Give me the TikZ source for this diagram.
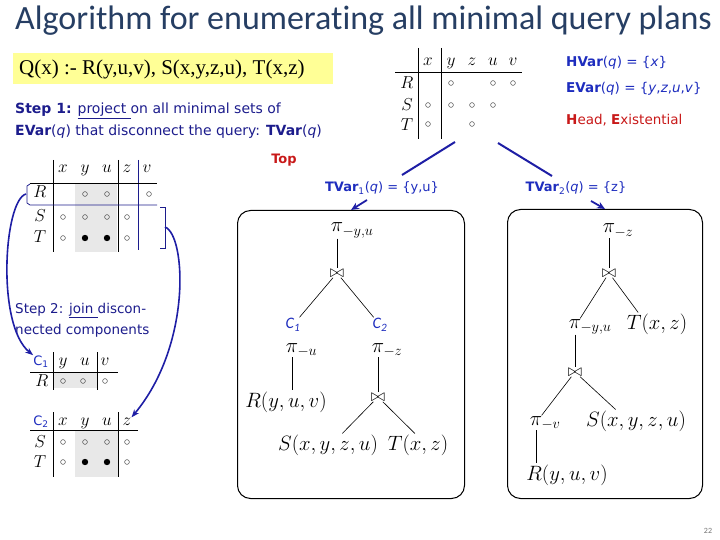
\documentclass[tikz,border=0pt]{standalone}
\usepackage{fontspec}
\setmainfont{Carlito}[Ligatures=NoCommon]
\newfontfamily\verd{DejaVu Sans}
\newfontfamily\tms{Liberation Serif}
\usetikzlibrary{arrows.meta,calc}
\definecolor{titlec}{RGB}{38,62,99}
\definecolor{navy}{RGB}{28,28,140}
\definecolor{lblue}{RGB}{30,45,190}
\definecolor{hred}{RGB}{200,25,25}
\definecolor{hl}{RGB}{255,255,150}
\definecolor{cellgray}{RGB}{232,232,232}
\definecolor{arrowc}{RGB}{30,30,165}
\newcommand\zrl[1]{\rlap{$\scriptstyle #1$}}
\begin{document}
\begin{tikzpicture}[x=1pt,y=-1pt,
  bl/.style={inner sep=0pt,anchor=base west},
  stepc/.style={bl,font=\verd\fontsize{14}{16}\selectfont,text=navy},
  infoc/.style={inner sep=0pt,font=\verd\fontsize{13.5}{15}\selectfont,text=lblue},
  tvc/.style={inner sep=0pt,anchor=base,font=\verd\fontsize{13}{15}\selectfont,text=lblue},
  hd/.style={inner sep=0pt,anchor=base,font=\fontsize{18.5}{20}\selectfont},
  oc/.style={draw=black!75,line width=0.45pt},
  rule/.style={line width=0.8pt},
  brule/.style={line width=0.8pt,draw=navy},
  pnode/.style={inner sep=0.5pt,anchor=base,font=\fontsize{20}{22}\selectfont},
  rel/.style={inner sep=1pt,font=\fontsize{20.5}{22}\selectfont},
  jn/.style={inner sep=0.5pt,font=\fontsize{18}{20}\selectfont},
  cl/.style={inner sep=1pt,text=lblue,font=\fontsize{16}{18}\selectfont\itshape},
  ctl/.style={inner sep=0pt,anchor=base,text=lblue,font=\verd\fontsize{13}{15}\selectfont},
  tedge/.style={line width=0.6pt},
  pbox/.style={draw,line width=1pt,rounded corners=13pt,anchor=north west},
  bline/.style={draw=arrowc,line width=2pt},
  barrow/.style={draw=arrowc,line width=1.8pt,-{Stealth[length=8pt,width=7pt]}},
  carrow/.style={draw=arrowc,line width=1.6pt,-{Stealth[length=8pt,width=6pt]}},
]
\useasboundingbox (0,0) rectangle (720,540);

% title
\node[bl,font=\fontsize{34}{38}\selectfont,text=titlec] (title) at (15,30)
  {Algorithm for enumerating all minimal query plans};

% query
\fill[hl] (13,53) rectangle (333,84);
\node[bl,font=\tms\fontsize{21}{23}\selectfont] (query) at (19,75)
  {Q(x) :- R(y,u,v), S(x,y,z,u), T(x,z)};

% step 1
\node[stepc] (s1a) at (15,114) {\textbf{Step 1:} \underline{project }on all minimal sets of};
\node[stepc] (s1b) at (15,136) {\textbf{EVar}(\textit{q}) that disconnect the query: \textbf{TVar}(\textit{q})};

% top table
\foreach \l/\x in {x/428,y/451,z/472,u/493,v/513}
  \node[hd] (ta\l) at (\x,66) {$\l$};
\foreach \l/\y in {R/89,S/111,T/131}
  \node[hd] (ta\l) at (407,\y) {$\l$};
\draw[rule] (418,48) -- (418,139);
\draw[rule] (441,48) -- (441,139);
\draw[rule] (395,72) -- (522,72);
\foreach \x/\y in {451/83,493/83,513/83,428/105,451/105,472/105,493/105,428/124,472/124}
  \draw[oc] (\x,\y) circle (2.4);

% info
\node[infoc,anchor=base west] (hvar) at (566,67) {\textbf{HVar}(\textit{q}) = \{\textit{x}\}};
\node[infoc,anchor=base west] (evar) at (566,93) {\textbf{EVar}(\textit{q}) = \{\textit{y},\textit{z},\textit{u},\textit{v}\}};
\node[infoc,anchor=base west,text=hred] (head) at (566,125) {\textbf{H}ead, \textbf{E}xistential};

% top label
\node[infoc,text=hred,font=\verd\bfseries\fontsize{13}{15}\selectfont] (top) at (284,160) {Top};

% tvar labels
\node[tvc] (tv1) at (382,192) {\textbf{TVar}\textsubscript{1}(\textit{q}) = \{y,u\}};
\node[tvc] (tv2) at (576,192) {\textbf{TVar}\textsubscript{2}(\textit{q}) = \{z\}};

% blue lines from table
\coordinate (l1s) at (455,142);
\coordinate (l1e) at (402,175);
\coordinate (l2s) at (498,143);
\coordinate (l2e) at (552,176);
\draw[bline] (l1s) -- (l1e);
\draw[bline] (l2s) -- (l2e);

% boxes
\node[pbox,minimum width=227pt,minimum height=288pt] (box1) at (237,210) {};
\node[pbox,minimum width=195pt,minimum height=289pt] (box2) at (507,209) {};
\coordinate (a1s) at (367,200);
\coordinate (a2s) at (591,201);
\draw[barrow] (a1s) -- (box1.north);
\draw[barrow] (a2s) -- (box2.north);

% tree 1
\node[pnode] (b1p) at (337,232) {$\pi_{\zrl{-y,u}}$};
\node[jn] (b1j) at (337,273) {$\bowtie$};
\node[cl] (c1) at (293,325) {C\textsubscript{1}};
\node[cl] (c2) at (380,325) {C\textsubscript{2}};
\node[pnode] (b1pu) at (292,352) {$\pi_{\zrl{-u}}$};
\node[rel] (b1r) at (286,402) {$R(y,u,v)$};
\node[pnode] (b1pz) at (378,352) {$\pi_{\zrl{-z}}$};
\node[jn] (b1j2) at (378,397) {$\bowtie$};
\node[rel] (b1s) at (328,445) {$S(x,y,z,u)$};
\node[rel] (b1t) at (418,445) {$T(x,z)$};
\draw[tedge] (b1p) -- (b1j);
\draw[tedge] (b1j) -- (c1);
\draw[tedge] (b1j) -- (c2);
\draw[tedge] (b1pu) -- (b1pu |- b1r.north);
\draw[tedge] (b1pz) -- (b1j2);
\draw[tedge] (b1j2) -- ($(b1s.north west)!0.64!(b1s.north east)$);
\draw[tedge] (b1j2) -- ($(b1t.north west)!0.45!(b1t.north east)$);

% tree 2
\node[pnode] (b2p) at (609,233) {$\pi_{\zrl{-z}}$};
\node[jn] (b2j) at (609,273) {$\bowtie$};
\node[pnode] (b2pyu) at (575,328) {$\pi_{\zrl{-y,u}}$};
\node[rel] (b2t) at (657,324) {$T(x,z)$};
\node[jn] (b2j2) at (575,372) {$\bowtie$};
\node[pnode] (b2pv) at (536,425) {$\pi_{\zrl{-v}}$};
\node[rel] (b2s) at (636,421) {$S(x,y,z,u)$};
\node[rel] (b2r) at (567,475) {$R(y,u,v)$};
\draw[tedge] (b2p) -- (b2j);
\draw[tedge] (b2j) -- (b2pyu);
\draw[tedge] (b2j) -- ($(b2t.north west)!0.2!(b2t.north east)$);
\draw[tedge] (b2pyu) -- (b2j2);
\draw[tedge] (b2j2) -- (b2pv);
\draw[tedge] (b2j2) -- ($(b2s.north west)!0.3!(b2s.north east)$);
\draw[tedge] (b2pv) -- (b2pv |- b2r.north);

% left table
\fill[cellgray] (75,183) rectangle (117,252);
\foreach \l/\x in {x/63,y/85,u/107,z/127,v/147}
  \node[hd] (tl\l) at (\x,173) {$\l$};
\foreach \l/\y in {R/198,S/222,T/243}
  \node[hd] (tl\l) at (40,\y) {$\l$};
\draw[rule] (53,160) -- (53,252);
\draw[rule] (118,160) -- (118,252);
\draw[brule] (138,160) -- (138,250);
\draw[rule] (30,183) -- (157,183);
\draw[brule] (30,184) -- (27,186) -- (27,203) -- (30,205) -- (157,205);
\draw[brule] (160,207) -- (165,207) -- (165,248) -- (160,248);
\foreach \x/\y in {85/194,107/194,149/194,63/217,85/217,107/217,127/217,63/238,127/238}
  \draw[oc] (\x,\y) circle (2.4);
\fill (85,238) circle (3.2);
\fill (107,238) circle (3.2);

% step 2
\node[stepc,font=\verd\fontsize{13.5}{16}\selectfont] (s2a) at (15,313) {Step 2: \underline{join }discon-};
\node[stepc,font=\verd\fontsize{13.5}{16}\selectfont] (s2b) at (15,334) {nected components};

% C1 table
\fill[cellgray] (53,372) rectangle (97,388);
\node[ctl] (t1c) at (41,365) {C\textsubscript{1}};
\foreach \l/\x in {y/63,u/85,v/105}
  \node[hd] (tb\l) at (\x,365) {$\l$};
\node[hd] (tbR) at (42,386) {$R$};
\draw[rule] (53,352) -- (53,390);
\draw[rule] (97,352) -- (97,390);
\draw[rule] (30,372) -- (118,372);
\foreach \x in {63,83,105}
  \draw[oc] (\x,381) circle (2.4);

% C2 table
\fill[cellgray] (75,430) rectangle (118,477);
\node[ctl] (t2c) at (41,425) {C\textsubscript{2}};
\foreach \l/\x in {x/63,y/85,u/107,z/127}
  \node[hd] (tc\l) at (\x,425) {$\l$};
\node[hd] (tcS) at (40,447) {$S$};
\node[hd] (tcT) at (40,467) {$T$};
\draw[rule] (53,412) -- (53,477);
\draw[rule] (118,412) -- (118,477);
\draw[rule] (30,430) -- (138,430);
\foreach \x/\y in {63/442,85/442,107/442,127/442,63/462,127/462}
  \draw[oc] (\x,\y) circle (2.4);
\fill (85,462) circle (3.2);
\fill (107,462) circle (3.2);

% curved arrows
\coordinate (r1) at (26,194);
\coordinate (r2) at (165,227);
\draw[carrow] (r1) .. controls (4,200) and (-4,325) .. (t1c.north west);
\draw[carrow] (r2) .. controls (186,235) and (192,345) .. (tcz.north east);

% page number
\node[inner sep=0pt,text=black!55,font=\fontsize{8}{9}\selectfont] (pg) at (708,531) {22};
\end{tikzpicture}
\end{document}
